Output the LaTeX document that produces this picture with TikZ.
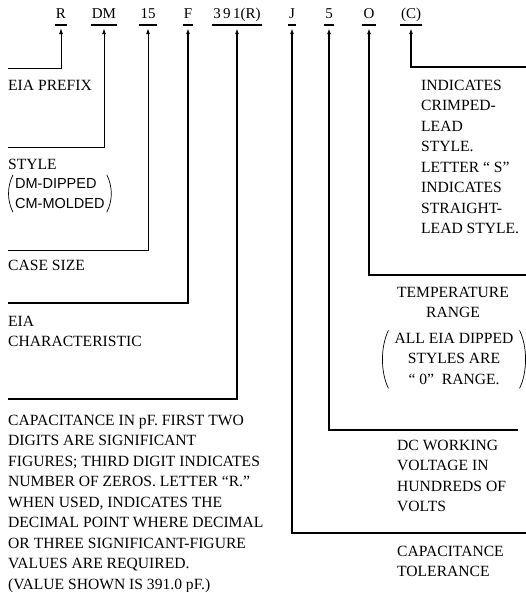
\documentclass[tikz,border=0pt]{standalone}
\usepackage{fontspec}
\setmainfont{Liberation Serif}
\setsansfont{Liberation Sans}
\usetikzlibrary{arrows.meta}

\begin{document}
\begin{tikzpicture}[x=1pt,y=-1pt,
    code/.style={anchor=base,inner sep=0pt,text height=11pt,text depth=0pt,
      font=\fontsize{15}{20}\selectfont},
    txt/.style={inner sep=0pt,font=\fontsize{15.6}{20.5}\selectfont},
    lead/.style={{Latex[length=6pt,width=4pt]}-},
    bar/.style={line width=2pt},
    paren/.style={line width=0.7pt}]
    \useasboundingbox (0,0) rectangle (526,592);

    % === CODE ===
    \node[code] (cR)   at (61,18)  {R};
    \node[code] (cDM)  at (104,18) {DM};
    \node[code] (c15)  at (148,18) {15};
    \node[code] (cF)   at (188,18) {F};
    \node[code] (c391) at (237,18) {3\,9\,1(R)};
    \node[code] (cJ)   at (292,18) {J};
    \node[code] (c5)   at (329,18) {5};
    \node[code] (cO)   at (369,18) {O};
    \node[code] (cC)   at (411,18) {(C)};
    \foreach \n in {R,DM,15,F,391,J,5,O,C} {
        \draw[bar] ([xshift=-1pt,yshift=-7pt]c\n.south west) -- ([xshift=1pt,yshift=-7pt]c\n.south east);
    }

    % === LEADS ===
    \foreach \n/\ex/\ey/\lw in {R/8/68/0.8, DM/8/147/1, 15/8/250/1, F/8/303/1.5,
        391/8/399/2, J/530/533/2, 5/518/430/2, O/530/275/2, C/530/67/1.3} {
        \coordinate (e\n) at (\ex,\ey);
        \draw[lead,line width=\lw pt] ([yshift=-10pt]c\n.south) |- (e\n);
    }

    % === LEFT LABELS ===
    \node[txt,anchor=base west] (lR) at (8,90) {EIA PREFIX};
    \node[txt,anchor=base west] (lDM) at (8,169) {STYLE};
    \node[inner sep=0pt,anchor=base west,font=\fontsize{14.5}{20}\selectfont\sffamily] (lDMp) at (15,188)
        {\begin{tabular}[t]{@{}l@{}}DM-DIPPED\\CM-MOLDED\end{tabular}};
    % parentheses
    \draw[paren] ([xshift=-2pt,yshift=-1pt]lDMp.north west) .. controls +(-6pt,-12pt) and +(-6pt,12pt) .. ([xshift=-2pt,yshift=2pt]lDMp.south west);
    \draw[paren] ([xshift=2pt,yshift=-1pt]lDMp.north east) .. controls +(6pt,-12pt) and +(6pt,12pt) .. ([xshift=2pt,yshift=2pt]lDMp.south east);
    \node[txt,anchor=base west] (l15) at (8,270) {CASE SIZE};
    \node[txt,anchor=base west] (lF) at (8,326)
        {\begin{tabular}[t]{@{}l@{}}EIA\\CHARACTERISTIC\end{tabular}};
    \node[txt,anchor=base west] (l391) at (8,425)
        {\begin{tabular}[t]{@{}l@{}}
        CAPACITANCE IN pF. FIRST TWO\\
        DIGITS ARE SIGNIFICANT\\
        FIGURES; THIRD DIGIT INDICATES\\
        NUMBER OF ZEROS. LETTER “R.”\\
        WHEN USED, INDICATES THE\\
        DECIMAL POINT WHERE DECIMAL\\
        OR THREE SIGNIFICANT-FIGURE\\
        VALUES ARE REQUIRED.\\
        (VALUE SHOWN IS 391.0 pF.)
        \end{tabular}};

    % === RIGHT LABELS ===
    \node[txt,anchor=base west] (lC) at (421,90)
        {\begin{tabular}[t]{@{}l@{}}
        INDICATES\\ CRIMPED-\\ LEAD\\ STYLE.\\ LETTER “ S”\\
        INDICATES\\ STRAIGHT-\\ LEAD STYLE.
        \end{tabular}};
    \node[txt,anchor=base] (lO) at (453,297)
        {\begin{tabular}[t]{@{}c@{}}TEMPERATURE\\RANGE\end{tabular}};
    \node[txt,anchor=base] (lOp) at (454,343)
        {\begin{tabular}[t]{@{}c@{}}ALL EIA DIPPED\\STYLES ARE\\“ 0” \ RANGE.\end{tabular}};
    % parentheses
    \draw[paren] ([xshift=-6pt,yshift=-2pt]lOp.north west) .. controls +(-8pt,-16pt) and +(-8pt,16pt) .. ([xshift=-6pt,yshift=2pt]lOp.south west);
    \draw[paren] ([xshift=6pt,yshift=-2pt]lOp.north east) .. controls +(8pt,-16pt) and +(8pt,16pt) .. ([xshift=6pt,yshift=2pt]lOp.south east);
    \node[txt,anchor=base west] (l5) at (397,450)
        {\begin{tabular}[t]{@{}l@{}}DC WORKING\\VOLTAGE IN\\HUNDREDS OF\\VOLTS\end{tabular}};
    \node[txt,anchor=base west] (lJ) at (397,556)
        {\begin{tabular}[t]{@{}l@{}}CAPACITANCE\\TOLERANCE\end{tabular}};
\end{tikzpicture}
\end{document}
